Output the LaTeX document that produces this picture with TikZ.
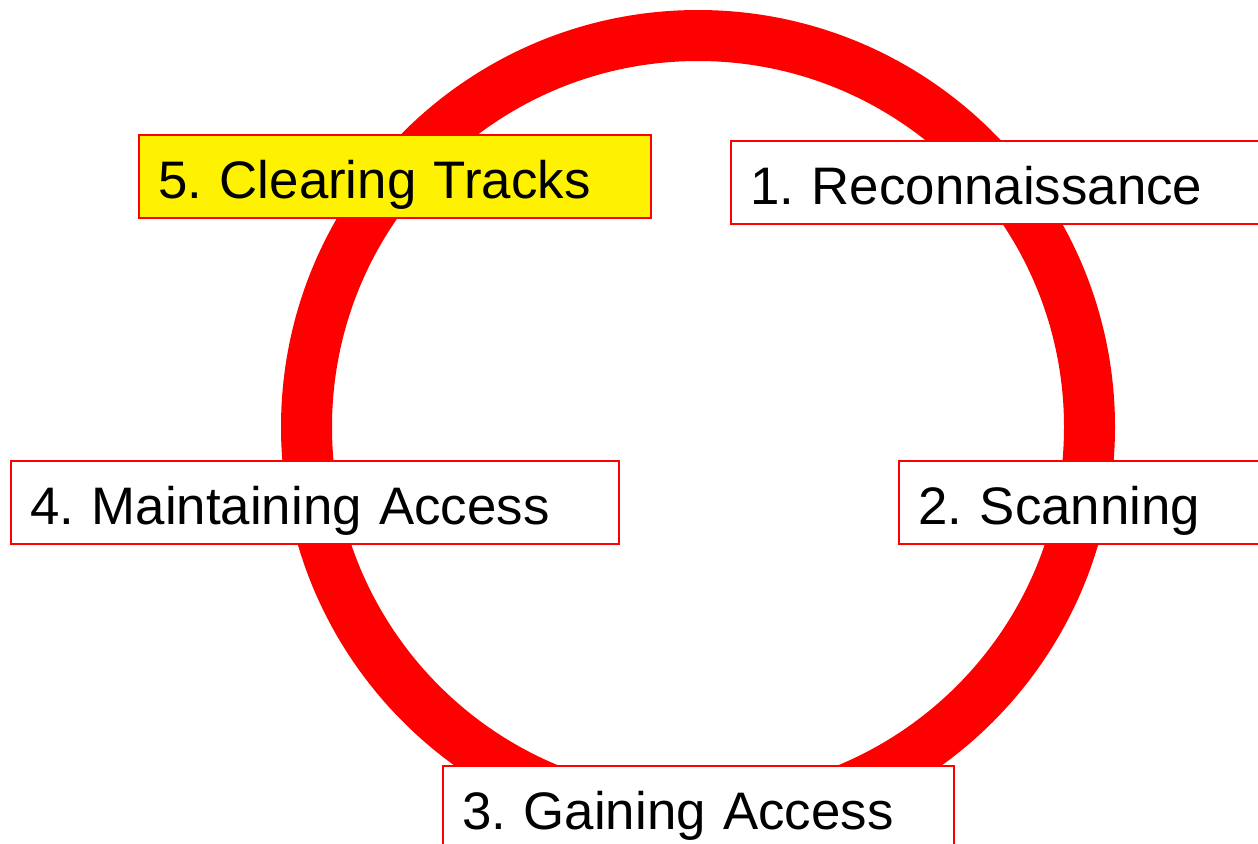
\documentclass[tikz,border=0pt]{standalone}
\usepackage{fontspec}
\setmainfont{Liberation Sans}
\frenchspacing
\tikzstyle{stage}=[rectangle, draw=red, line width=1.2pt, fill=white, anchor=north west, minimum height=41.5pt, inner xsep=9.5pt, inner ysep=0pt, text height=24pt, text depth=2.5pt, align=left, font=\fontsize{26.4}{32}\selectfont]
\newcommand{\stage}{\node[stage]}

\begin{document}
\begin{tikzpicture}[x=0.5pt,y=-0.5pt]
            \path[use as bounding box, clip] (0,0) rectangle (1258,843);
            \draw[red, line width=25.5pt] (698,427) circle [radius=195.75pt];
            \stage[fill=yellow, text width=237pt] (clear) at (138,134) {5. Clearing Tracks};
            \stage[text width=261pt] (recon) at (730,140) {1. Reconnaissance};
            \stage[text width=285pt] (maint) at (10,460) {4. Maintaining Access};
            \stage[text width=181pt] (scan) at (898,460) {2. Scanning};
            \stage[text width=236.5pt] (gain) at (442,765) {3. Gaining Access};
        \end{tikzpicture}
\end{document}
